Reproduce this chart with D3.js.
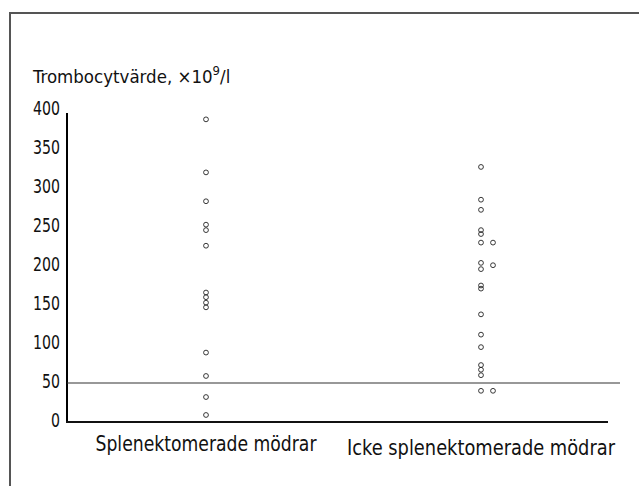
<!DOCTYPE html>
<html>
<head>
<meta charset="utf-8">
<script src="https://cdn.jsdelivr.net/npm/d3@7"></script>
<style>
  body { margin: 0; background: #fff; }
  svg text { font-family: "DejaVu Sans Condensed", "Liberation Sans", sans-serif; fill: #111; }
</style>
</head>
<body>
<svg id="chart" width="639" height="486"></svg>
<script>
// Data
const categories = ["Splenektomerade mödrar", "Icke splenektomerade mödrar"];
const splenValues = [388, 320, 283, 253, 246, 226, 166, 160, 153, 147, 89, 59, 32, 9];
const ickeValues = [327, 285, 272, 246, 241, 230, 204, 196, 175, 171, 138, 112, 96, 73, 67, 60, 40];
// points drawn beside the column where values coincide
const ickeSideValues = [230, 201, 40];
const yTicks = [0, 50, 100, 150, 200, 250, 300, 350, 400];
const refLine = 50;

const svg = d3.select("#chart");

// Frame (top and left only, the rest is cut off)
svg.append("path")
    .attr("d", "M10,486 V13 H639")
    .attr("fill", "none")
    .attr("stroke", "#555")
    .attr("stroke-width", 2);

const margin = {left: 67, right: 608};

const y = d3.scaleLinear().domain([0, 400]).range([422, 110]);
const x = d3.scalePoint().domain(categories).range([206, 481]);

// squeeze a text to a given width, the original uses a condensed face
function squeeze(sel, w) {
    sel.attr("textLength", w).attr("lengthAdjust", "spacingAndGlyphs");
}

// Title with superscript
const title = svg.append("text")
    .attr("x", 33)
    .attr("y", 83)
    .style("font-size", "18.5px");
title.append("tspan").text("Trombocytvärde, ×10");
title.append("tspan").attr("dy", -8).style("font-size", "13px").text("9");
title.append("tspan").attr("dy", 8).text("/l");

// Y axis
const yAxis = d3.axisLeft(y).tickValues(yTicks).tickSize(0).tickPadding(7);
const gy = svg.append("g")
    .attr("transform", `translate(${margin.left},0)`)
    .call(yAxis);
gy.select(".domain").remove();
gy.selectAll("text")
    .attr("dy", "0.2em")
    .style("font-size", "20px")
    .style("font-family", "'DejaVu Sans Condensed', sans-serif")
    .each(function(d) {
        const w = String(d).length * 9;
        d3.select(this).call(squeeze, w);
    });

svg.append("line")
    .attr("x1", margin.left).attr("x2", margin.left)
    .attr("y1", 113).attr("y2", y(0) + 1)
    .attr("stroke", "#000")
    .attr("stroke-width", 2);

// X axis
svg.append("line")
    .attr("x1", margin.left - 1).attr("x2", margin.right)
    .attr("y1", y(0)).attr("y2", y(0))
    .attr("stroke", "#111")
    .attr("stroke-width", 2.2);

// Reference line at 50
svg.append("line")
    .attr("x1", margin.left).attr("x2", 620)
    .attr("y1", y(refLine)).attr("y2", y(refLine))
    .attr("stroke", "#333")
    .attr("stroke-width", 1.2);

// Category labels
const catWidths = [221, 268];
svg.selectAll(".cat")
    .data(categories)
    .enter().append("text")
    .attr("class", "cat")
    .attr("x", (d, i) => x(d) - catWidths[i] / 2)
    .attr("y", (d, i) => i === 0 ? 451 : 455)
    .style("font-size", "21px")
    .text(d => d)
    .each(function(d, i) { d3.select(this).call(squeeze, catWidths[i]); });

// Points
function drawPoints(values, cat, offset) {
    svg.append("g").selectAll("circle")
        .data(values)
        .enter().append("circle")
        .attr("cx", x(cat) + offset)
        .attr("cy", d => y(d))
        .attr("r", 2.4)
        .attr("fill", "none")
        .attr("stroke", "#222")
        .attr("stroke-width", 0.9);
}
drawPoints(splenValues, categories[0], 0);
drawPoints(ickeValues, categories[1], 0);
drawPoints(ickeSideValues, categories[1], 12);
</script>
</body>
</html>
